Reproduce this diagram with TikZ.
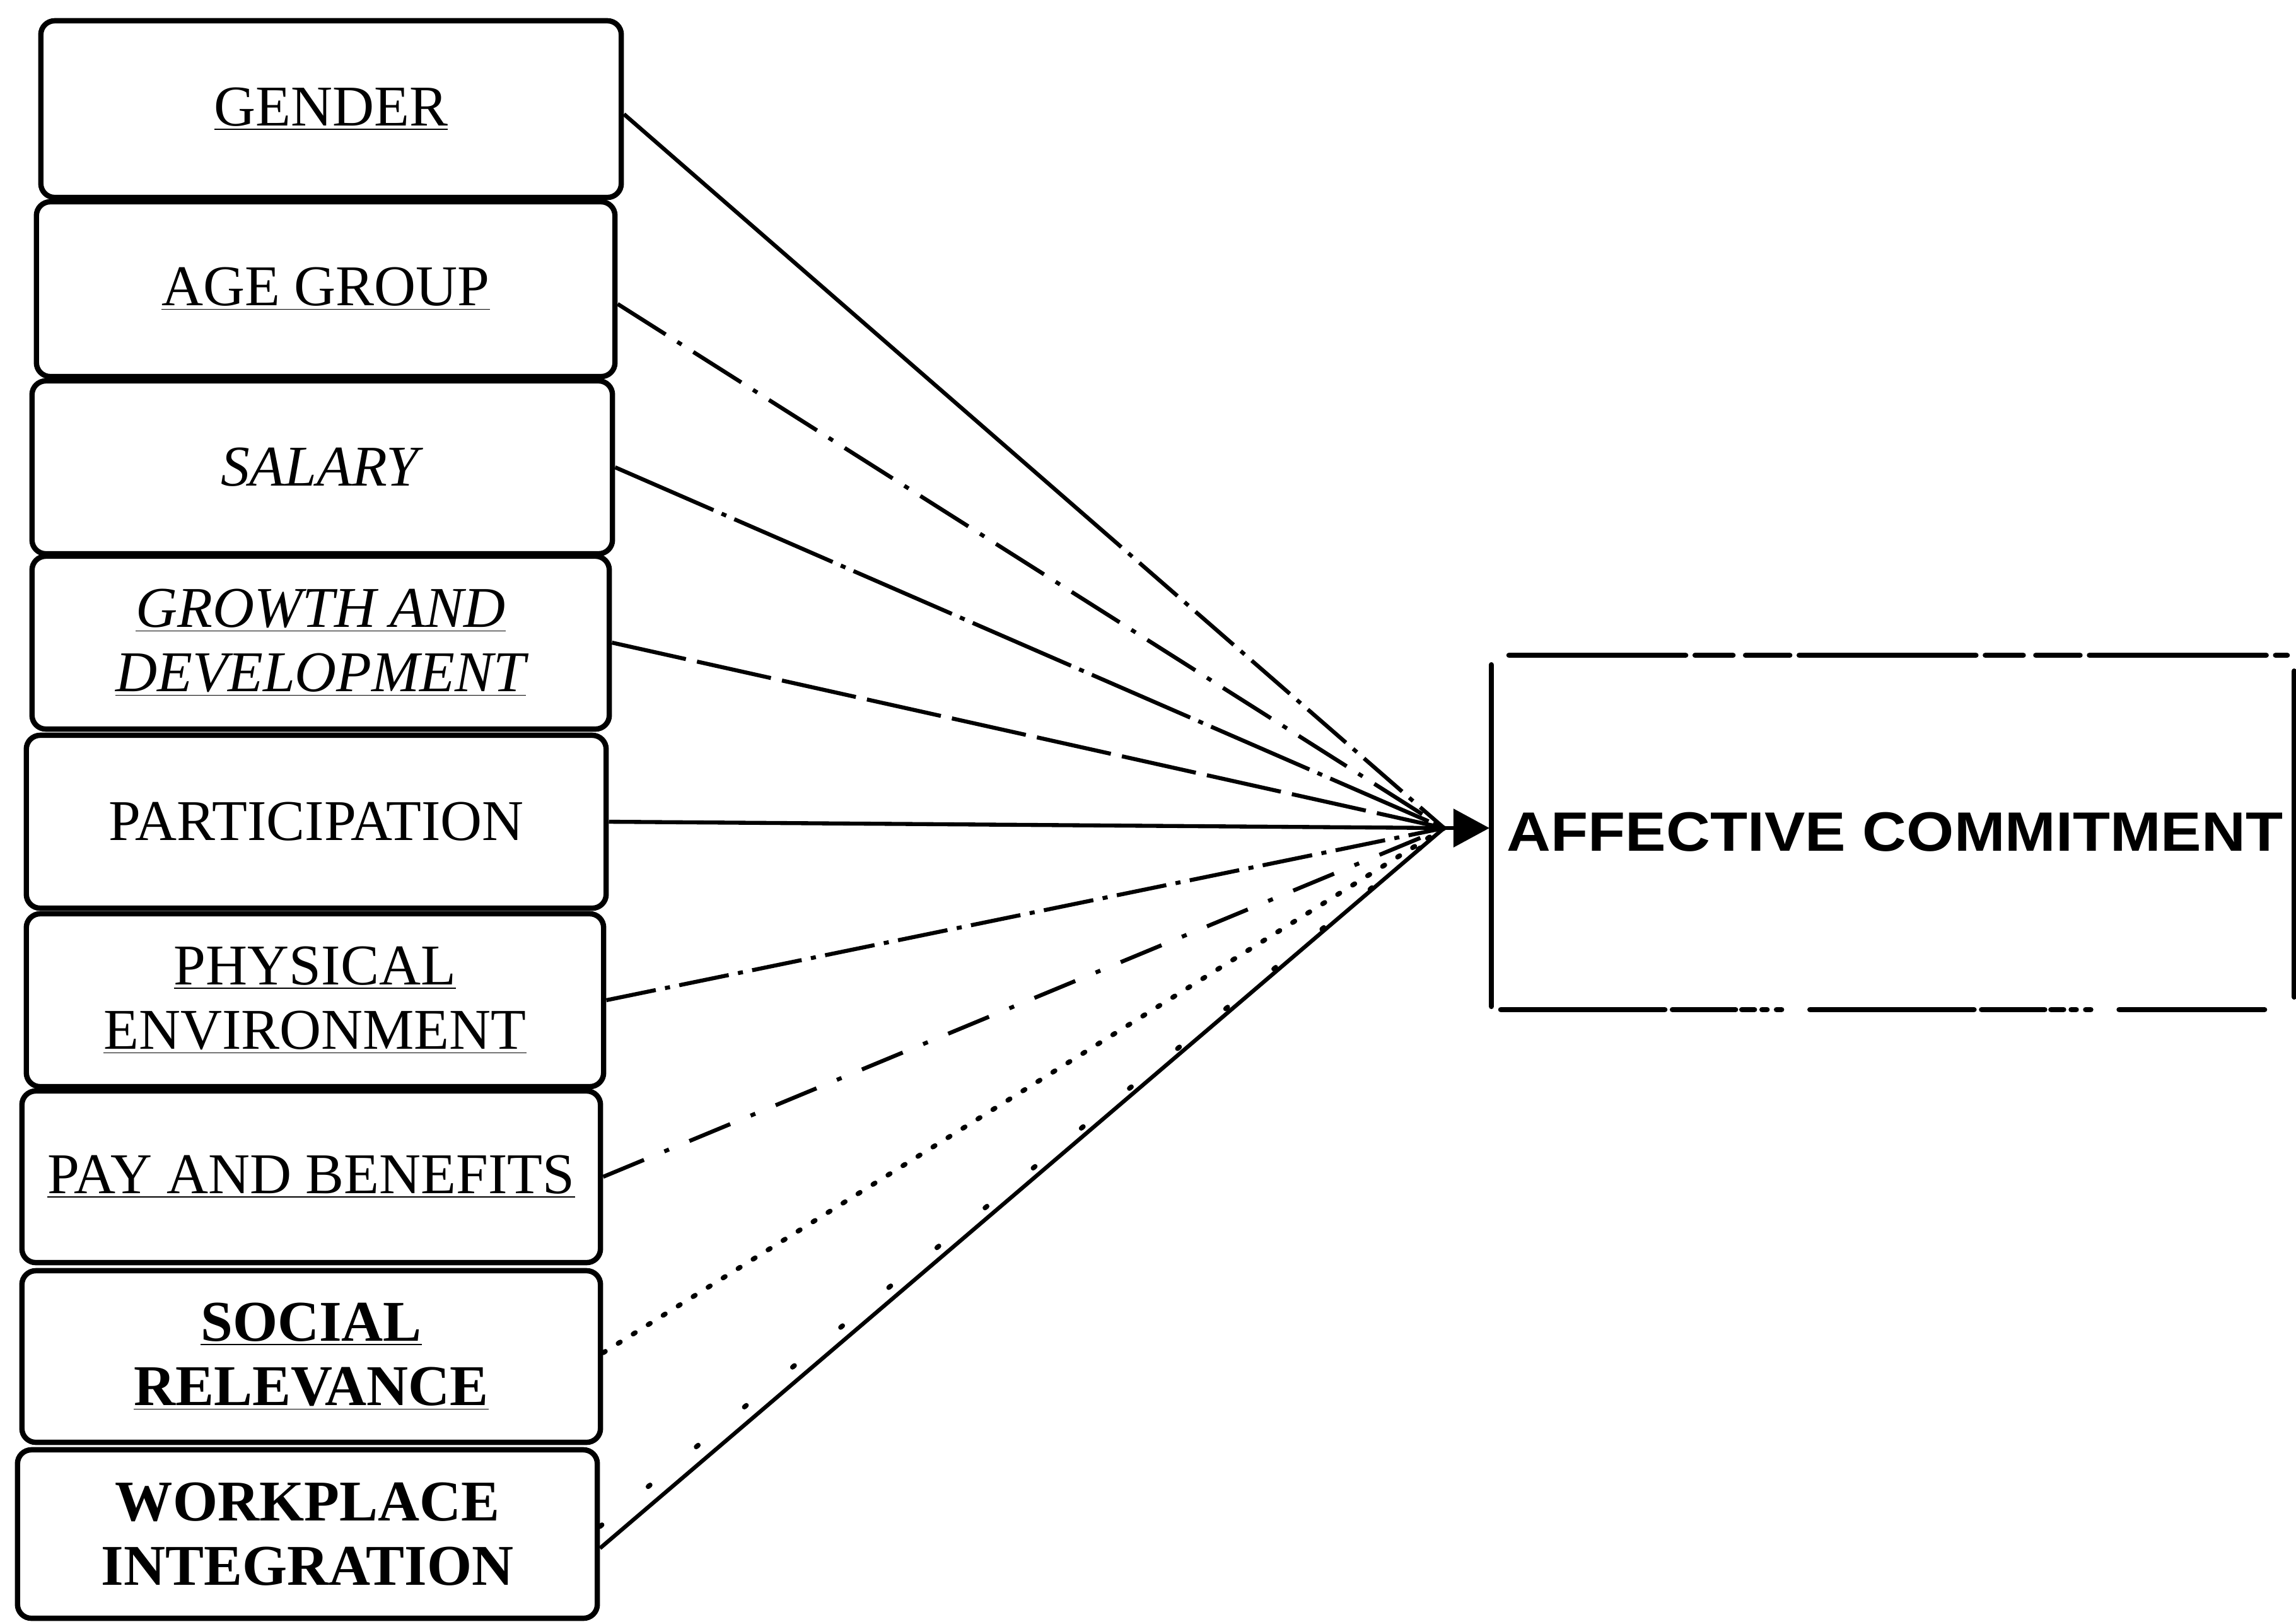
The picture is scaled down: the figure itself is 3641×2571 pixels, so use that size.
\documentclass[tikz,border=0pt]{standalone}
\usepackage{fontspec}
\setmainfont{Liberation Serif}
\newfontfamily\headsans{Liberation Sans}
\usetikzlibrary{arrows.meta,calc}

\begin{document}
\begin{tikzpicture}[x=0.01cm,y=-0.01cm,
  factor/.style={draw, line width=2.4pt, rounded corners=0.22cm, inner sep=0pt,
    align=center, font=\fontsize{26}{29}\selectfont},
  outcome/.style={inner sep=0pt, minimum width=12.71cm, minimum height=5.6cm},
  side/.style={line width=2.4pt, line cap=round},
  link/.style={line width=1.8pt},
  ddotA/.style={link, dash pattern=on 0.9cm off 0.22cm on 0.08cm off 0.22cm},
  ddotB/.style={link, dash pattern=on 1.7cm off 0.14cm on 0.08cm off 0.14cm},
  longdash/.style={link, dash pattern=on 1.2cm off 0.18cm},
  ddotC/.style={link, dash pattern=on 0.8cm off 0.15cm on 0.08cm off 0.15cm},
  ddotD/.style={link, dash pattern=on 0.7cm off 0.35cm on 0.08cm off 0.35cm},
  dotline/.style={link, line width=2.2pt, line cap=round, dash pattern=on 0.04cm off 0.24cm},
  sparse/.style={link, line width=2.2pt, line cap=round, dash pattern=on 0.04cm off 0.95cm},
  topdash/.style={side, dash pattern=on 2.8cm off 0.15cm on 0.6cm off 0.2cm on 0.7cm off 0.15cm},
  botdash/.style={side, dash pattern=on 2.6cm off 0.12cm on 1cm off 0.1cm on 0.2cm off 0.12cm on 0.08cm off 0.15cm on 0.08cm off 0.45cm}
]
\useasboundingbox (0,0) rectangle (3641,2571);

% factor boxes
\node[factor, minimum width=9.2cm,  minimum height=2.8cm]  (gender) at (525,173)    {\underline{GENDER}};
\node[factor, minimum width=9.17cm, minimum height=2.77cm] (age)    at (516.5,458.5) {\underline{AGE GROUP}};
\node[factor, minimum width=9.2cm,  minimum height=2.74cm] (salary) at (511,741)    {\textit{SALARY}};
\node[factor, minimum width=9.15cm, minimum height=2.74cm] (growth) at (508.5,1019)  {\textit{\underline{GROWTH AND}}\\\textit{\underline{DEVELOPMENT}}};
\node[factor, minimum width=9.19cm, minimum height=2.74cm] (partic) at (501.5,1303)  {PARTICIPATION};
\node[factor, minimum width=9.15cm, minimum height=2.74cm] (phys)   at (499.5,1586)  {\underline{PHYSICAL}\\\underline{ENVIRONMENT}};
\node[factor, minimum width=9.17cm, minimum height=2.72cm] (pay)    at (493.5,1866)  {\underline{PAY AND BENEFITS}};
\node[factor, minimum width=9.17cm, minimum height=2.72cm] (social) at (493.5,2151)  {\bfseries\underline{SOCIAL}\\\bfseries\underline{RELEVANCE}};
\node[factor, minimum width=9.19cm, minimum height=2.67cm] (work)   at (487.5,2432.5){\bfseries WORKPLACE\\\bfseries INTEGRATION};

% outcome box, drawn side by side
\node[outcome] (tgt) at (3001.5,1320) {};
\node[font=\headsans\bfseries\fontsize{25}{30}\selectfont] (tgtlabel) at (3005,1319)
  {\scalebox{1.1}[1]{AFFECTIVE COMMITMENT}};
\draw[side] ($(tgt.north west)+(0,15)$) -- ($(tgt.south west)+(0,-5)$);
\draw[topdash] ($(tgt.north west)+(28,0)$) -- ($(tgt.north east)+(-11,0)$);
\draw[side] ($(tgt.north east)+(0,25)$) -- ($(tgt.south east)+(0,-20)$);
\draw[botdash] ($(tgt.south west)+(15,0)$) -- ($(tgt.south east)+(-47,0)$);

% meeting point of the connectors
\coordinate (hub) at (2290,1313);
\draw[link, -{Triangle[length=0.57cm,width=0.6cm]}, shorten >=0.03cm] (hub) -- (hub -| tgt.west);

% connectors
\coordinate (gstart) at ([yshift=-0.08cm]gender.east);
\coordinate (gmid) at ($(gstart)!0.56!(hub)$);
\draw[link] (gstart) -- (gmid);
\draw[ddotC] (gmid) -- (hub);
\draw[ddotA] ([yshift=-0.235cm]age.east) -- (hub);
\draw[ddotB] (salary.east) -- (hub);
\draw[longdash] (growth.east) -- (hub);
\draw[link] (partic.east) -- (hub);
\draw[ddotC] (phys.east) -- (hub);
\draw[ddotD] (pay.east) -- (hub);
\draw[dotline] ([yshift=0.06cm]social.east) -- (hub);
\draw[sparse] ([yshift=0.12cm]work.east) -- (hub);
\draw[link] ([yshift=-0.225cm]work.east) -- (hub);
\end{tikzpicture}
\end{document}
